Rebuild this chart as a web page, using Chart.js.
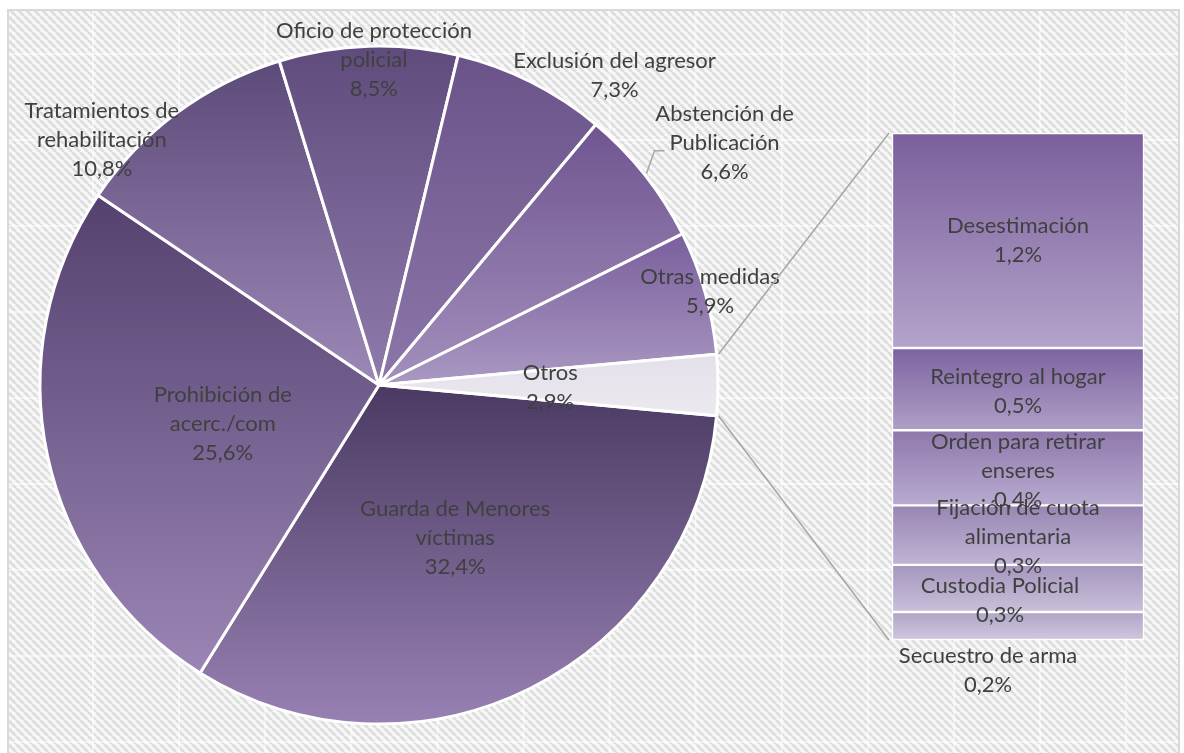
<!DOCTYPE html>
<html>
<head>
<meta charset="utf-8">
<script src="https://cdn.jsdelivr.net/npm/chart.js@4.4.0/dist/chart.umd.min.js"></script>
<style>
  html, body { margin: 0; padding: 0; background: #fff; }
  #wrap { position: relative; width: 1184px; height: 753px; }
  #wrap canvas { position: absolute; left: 0; top: 0; }
</style>
</head>
<body>
<div id="wrap">
  <canvas id="pieChart" width="1184" height="753"></canvas>
  <canvas id="barChart" width="1184" height="753"></canvas>
</div>
<script>
// Medidas dictadas (torta principal)
const pieLabels = [
  ['Guarda de Menores', 'víctimas'],
  ['Prohibición de', 'acerc./com'],
  ['Tratamientos de', 'rehabilitación'],
  ['Oficio de protección', 'policial'],
  ['Exclusión del agresor'],
  ['Abstención de', 'Publicación'],
  ['Otras medidas'],
  ['Otros']
];
const pieValues = [32.4, 25.6, 10.8, 8.5, 7.3, 6.6, 5.9, 2.9];

// Desglose de "Otros" (barra secundaria)
const barLabels = [
  ['Desestimación'],
  ['Reintegro al hogar'],
  ['Orden para retirar', 'enseres'],
  ['Fijación de cuota', 'alimentaria'],
  ['Custodia Policial'],
  ['Secuestro de arma']
];
const barValues = [1.23, 0.47, 0.43, 0.34, 0.27, 0.16];

// estilos
const labelFont = '22px Lato';
const lineH = 29;
const textColor = '#404040';
const pieRadius = 339;
const pieTop = ['#4a3a62', '#54416e', '#5c4a78', '#5f4c7d', '#6a5389', '#6f5590', '#7a5f9c', '#e4e0ea'];
const pieBottom = ['#9781b3', '#9a85b5', '#9d89b7', '#8f7aac', '#8c77a9', '#a390bd', '#aa99c3', '#ece9f0'];
const barTop = ['#7a5f9c', '#7d63a0', '#8e78ac', '#9886b3', '#a596be', '#b1a4c7'];
const barBottom = ['#b3a3ca', '#ae9fc6', '#b8abcf', '#c0b4d4', '#c9bfda', '#d0c7de'];
// posición de etiquetas: [fracción del radio, giro en grados]
const pieLabelPlace = [[0.504, 0], [0.475, -2], [1.091, -12], [0.959, 0.9], [1.148, 10.6], [1.245, 3.3], [1.015, 0], [0.505, 0.7]];
const barLabelShift = [[0, 0], [0, 2], [0, 3.5], [0, 2], [-18, 11.5], [-30, 44]];

const pieTotal = pieValues.reduce((s, v) => s + v, 0);
const barTotal = barValues.reduce((s, v) => s + v, 0);
// "Otros" queda centrado a las 3 en punto
const pieRotation = 90 + pieValues[pieValues.length - 1] / pieTotal * 180;

function fmt(v) {
  return v.toFixed(1).replace('.', ',') + '%';
}

// gradiente vertical para cada porción
function sliceGradient(context) {
  const chart = context.chart;
  const i = context.dataIndex;
  const a = chart.chartArea;
  if (!a) return pieTop[i];
  const cy = (a.top + a.bottom) / 2;
  let start = (pieRotation - 90) * Math.PI / 180;
  for (let k = 0; k < i; k++) start += pieValues[k] / pieTotal * 2 * Math.PI;
  const end = start + pieValues[i] / pieTotal * 2 * Math.PI;
  let minY = cy, maxY = cy;
  for (let s = 0; s <= 60; s++) {
    const y = cy + pieRadius * Math.sin(start + (end - start) * s / 60);
    minY = Math.min(minY, y);
    maxY = Math.max(maxY, y);
  }
  const g = chart.ctx.createLinearGradient(0, minY, 0, maxY);
  g.addColorStop(0, pieTop[i]);
  g.addColorStop(1, pieBottom[i]);
  return g;
}

function barGradient(context, i) {
  const chart = context.chart;
  const y = chart.scales && chart.scales.y;
  if (!y || !chart.chartArea) return barTop[i];
  let from = 0;
  for (let k = 0; k < i; k++) from += barValues[k];
  const p0 = y.getPixelForValue(from);
  const p1 = y.getPixelForValue(from + barValues[i]);
  const g = chart.ctx.createLinearGradient(0, Math.min(p0, p1), 0, Math.max(p0, p1));
  g.addColorStop(0, barTop[i]);
  g.addColorStop(1, barBottom[i]);
  return g;
}

// fondo rayado del área del gráfico
function stripePattern(ctx) {
  const tile = document.createElement('canvas');
  tile.width = 8; tile.height = 8;
  const t = tile.getContext('2d');
  t.fillStyle = '#f8f8f8';
  t.fillRect(0, 0, 8, 8);
  t.strokeStyle = '#dedede';
  t.lineWidth = 2.8;
  [-8, 0, 8].forEach(off => {
    t.beginPath();
    t.moveTo(off, 0);
    t.lineTo(off + 8, 8);
    t.stroke();
  });
  return ctx.createPattern(tile, 'repeat');
}

const backgroundPlugin = {
  id: 'fondo',
  beforeDraw(chart) {
    const ctx = chart.ctx;
    ctx.save();
    ctx.fillStyle = '#ffffff';
    ctx.fillRect(0, 0, chart.width, chart.height);
    ctx.fillStyle = stripePattern(ctx);
    ctx.fillRect(8, 10, 1171, chart.height - 10);
    ctx.strokeStyle = 'rgba(255,255,255,0.55)';
    ctx.lineWidth = 2;
    for (let x = 93; x < 1179; x += 86.1) {
      ctx.beginPath(); ctx.moveTo(x, 10); ctx.lineTo(x, chart.height); ctx.stroke();
    }
    for (let y = 54; y < chart.height; y += 86) {
      ctx.beginPath(); ctx.moveTo(8, y); ctx.lineTo(1179, y); ctx.stroke();
    }
    ctx.strokeStyle = '#d9d9d9';
    ctx.lineWidth = 2;
    ctx.strokeRect(8, 10, 1171, chart.height);
    ctx.restore();
  }
};

const pieLabelPlugin = {
  id: 'etiquetasTorta',
  afterDatasetsDraw(chart) {
    const ctx = chart.ctx;
    const arcs = chart.getDatasetMeta(0).data;
    ctx.save();
    // línea guía de "Abstención de Publicación"
    const ab = arcs[5];
    const abMid = (ab.startAngle + ab.endAngle) / 2;
    const abPos = (abMid + pieLabelPlace[5][1] * Math.PI / 180);
    const lx = ab.x + Math.cos(abPos) * ab.outerRadius * pieLabelPlace[5][0];
    const ly = ab.y + Math.sin(abPos) * ab.outerRadius * pieLabelPlace[5][0];
    ctx.strokeStyle = '#a6a6a6';
    ctx.lineWidth = 1.5;
    ctx.beginPath();
    ctx.moveTo(ab.x + Math.cos(abMid) * (ab.outerRadius + 2), ab.y + Math.sin(abMid) * (ab.outerRadius + 2));
    ctx.lineTo(lx - 70, ly + 8);
    ctx.lineTo(lx - 60, ly + 8);
    ctx.stroke();

    ctx.font = labelFont;
    ctx.fillStyle = textColor;
    ctx.textAlign = 'center';
    ctx.textBaseline = 'middle';
    arcs.forEach((arc, i) => {
      const [f, shift] = pieLabelPlace[i];
      const ang = (arc.startAngle + arc.endAngle) / 2 + shift * Math.PI / 180;
      const x = arc.x + Math.cos(ang) * arc.outerRadius * f;
      const y = arc.y + Math.sin(ang) * arc.outerRadius * f;
      const lines = pieLabels[i].concat([fmt(pieValues[i])]);
      lines.forEach((t, k) => ctx.fillText(t, x, y + (k - (lines.length - 1) / 2) * lineH));
    });
    ctx.restore();
  }
};

const pieChart = new Chart(document.getElementById('pieChart'), {
  type: 'pie',
  data: {
    labels: pieLabels.map(l => l.join(' ')),
    datasets: [{
      data: pieValues,
      backgroundColor: sliceGradient,
      borderColor: '#ffffff',
      borderWidth: 3
    }]
  },
  options: {
    responsive: false,
    animation: false,
    rotation: pieRotation,
    radius: pieRadius,
    layout: { padding: { left: 34, right: 460, top: 40, bottom: 23 } },
    plugins: { legend: { display: false }, tooltip: { enabled: false } }
  },
  plugins: [backgroundPlugin, pieLabelPlugin]
});

// líneas que unen "Otros" con la barra
const connectorPlugin = {
  id: 'conectores',
  beforeDatasetsDraw(chart) {
    const arc = pieChart.getDatasetMeta(0).data[pieValues.length - 1];
    const bar = chart.getDatasetMeta(0).data[0];
    const left = bar.x - bar.width / 2;
    const a = chart.chartArea;
    const ctx = chart.ctx;
    ctx.save();
    ctx.strokeStyle = '#a6a6a6';
    ctx.lineWidth = 1.5;
    [[arc.startAngle, a.top], [arc.endAngle, a.bottom]].forEach(([ang, y]) => {
      ctx.beginPath();
      ctx.moveTo(arc.x + Math.cos(ang) * (arc.outerRadius + 2), arc.y + Math.sin(ang) * (arc.outerRadius + 2));
      ctx.lineTo(left - 3, y);
      ctx.stroke();
    });
    ctx.restore();
  }
};

const barLabelPlugin = {
  id: 'etiquetasBarra',
  afterDatasetsDraw(chart) {
    const ctx = chart.ctx;
    ctx.save();
    ctx.font = labelFont;
    ctx.fillStyle = textColor;
    ctx.textAlign = 'center';
    ctx.textBaseline = 'middle';
    barValues.forEach((v, i) => {
      const el = chart.getDatasetMeta(i).data[0];
      const x = el.x + barLabelShift[i][0];
      const y = (el.y + el.base) / 2 + barLabelShift[i][1];
      const lines = barLabels[i].concat([fmt(v)]);
      lines.forEach((t, k) => ctx.fillText(t, x, y + (k - (lines.length - 1) / 2) * lineH));
    });
    ctx.restore();
  }
};

const barChart = new Chart(document.getElementById('barChart'), {
  type: 'bar',
  data: {
    labels: ['Otros'],
    datasets: barValues.map((v, i) => ({
      label: barLabels[i].join(' '),
      data: [v],
      backgroundColor: c => barGradient(c, i),
      borderColor: '#ffffff',
      borderWidth: 1.5,
      borderSkipped: false,
      barPercentage: 1,
      categoryPercentage: 1
    }))
  },
  options: {
    responsive: false,
    animation: false,
    layout: { padding: { left: 892, right: 40, top: 133, bottom: 113 } },
    plugins: { legend: { display: false }, tooltip: { enabled: false } },
    scales: {
      x: { stacked: true, display: false },
      y: { stacked: true, display: false, reverse: true, min: 0, max: barTotal }
    }
  },
  plugins: [connectorPlugin, barLabelPlugin]
});
</script>
</body>
</html>
